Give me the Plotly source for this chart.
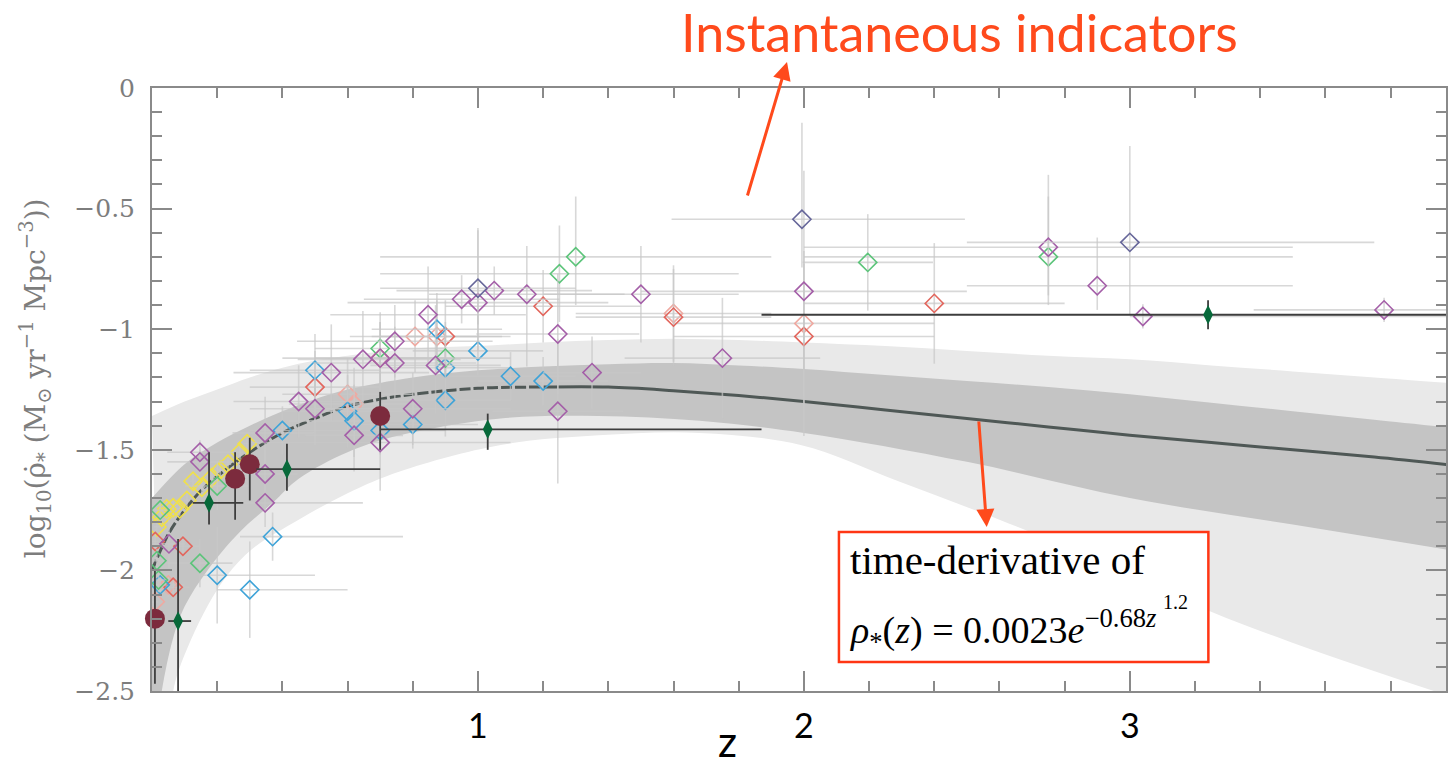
import plotly.graph_objects as go

# ---------------------------------------------------------------
# Fit curve and confidence bands: log10 SFR density versus redshift
# ---------------------------------------------------------------
mid_z = [0.0, 0.05, 0.1, 0.15, 0.2, 0.3, 0.4, 0.5, 0.6, 0.7, 0.8, 1.0, 1.2,
         1.4, 1.6, 1.8, 2.0, 2.25, 2.5, 2.75, 3.0, 3.25, 3.5, 3.75, 4.0]
mid_sfr = [-2.00, -1.85, -1.75, -1.67, -1.61, -1.51, -1.43, -1.37, -1.32,
           -1.29, -1.27, -1.245, -1.24, -1.24, -1.255, -1.275, -1.30, -1.335,
           -1.37, -1.405, -1.44, -1.47, -1.50, -1.53, -1.565]

up_z = [0.0, 0.1, 0.2, 0.3, 0.4, 0.5, 0.6, 0.8, 1.0, 1.2, 1.4, 1.6, 1.8,
        2.0, 2.25, 2.5, 2.75, 3.0, 3.25, 3.5, 3.75, 4.0]
outer_up = [-1.36, -1.30, -1.25, -1.20, -1.16, -1.13, -1.11, -1.08, -1.07,
            -1.055, -1.045, -1.04, -1.045, -1.055, -1.07, -1.09, -1.11,
            -1.125, -1.15, -1.175, -1.20, -1.225]
inner_up = [-1.70, -1.56, -1.47, -1.40, -1.34, -1.29, -1.25, -1.20, -1.17,
            -1.155, -1.145, -1.14, -1.15, -1.165, -1.19, -1.215, -1.24,
            -1.27, -1.305, -1.34, -1.375, -1.41]

inner_lo_z = [0.0, 0.03, 0.065, 0.1, 0.17, 0.27, 0.37, 0.45, 0.6, 0.76, 1.07,
              1.37, 1.68, 2.0, 2.5, 3.0, 3.5, 4.0]
inner_lo = [-2.80, -2.50, -2.28, -2.15, -2.00, -1.84, -1.72, -1.62, -1.51,
            -1.44, -1.37, -1.36, -1.38, -1.43, -1.55, -1.70, -1.81, -1.92]

outer_lo_z = [0.03, 0.065, 0.1, 0.2, 0.3, 0.45, 0.6, 0.76, 1.07, 1.37, 1.68,
              1.99, 2.29, 2.60, 2.91, 3.21, 3.52, 4.0]
outer_lo = [-2.90, -2.50, -2.35, -2.08, -1.92, -1.79, -1.68, -1.59, -1.48,
            -1.44, -1.43, -1.48, -1.63, -1.79, -1.96, -2.15, -2.31, -2.53]

# ---------------------------------------------------------------
# Compiled measurements (open diamonds), grouped by indicator colour
# z, log10 SFRD, and asymmetric errors in z and in log SFRD
# ---------------------------------------------------------------
purple_z = [0.147, 0.147, 0.052, 0.347, 0.347, 0.347, 0.45, 0.50, 0.55, 0.62,
            0.647, 0.70, 0.70, 0.745, 0.745, 0.80, 0.847, 0.87, 0.95, 1.00,
            1.05, 1.15, 1.245, 1.245, 1.35, 1.50, 1.75, 2.00, 2.75, 2.90,
            3.04, 3.78]
purple_sfr = [-1.51, -1.55, -1.89, -1.43, -1.60, -1.72, -1.30, -1.33, -1.18,
              -1.44, -1.125, -1.47, -1.12, -1.05, -1.14, -1.33, -0.94, -1.15,
              -0.876, -0.89, -0.84, -0.855, -1.02, -1.34, -1.18, -0.855,
              -1.12, -0.843, -0.66, -0.82, -0.947, -0.92]
purple_dzm = [0.10, 0.10, 0.05, 0.10, 0.10, 0.10, 0.20, 0.20, 0.30, 0.15, 0.20,
              0.40, 0.30, 0.30, 0.25, 0.30, 0.30, 0.20, 0.30, 0.40, 0.30, 0.30,
              0.25, 0.20, 0.15, 0.30, 0.30, 0.50, 0.75, 0.40, 0.04, 0.40]
purple_dzp = [0.10, 0.10, 0.05, 0.15, 0.10, 0.30, 0.20, 0.20, 0.30, 0.15, 0.30,
              0.40, 0.30, 0.30, 0.25, 0.30, 0.30, 0.20, 0.30, 0.40, 0.30, 0.30,
              0.25, 0.20, 0.15, 0.30, 0.30, 0.50, 0.75, 0.60, 1.00, 0.40]
purple_dym = [0.05, 0.05, 0.10, 0.15, 0.10, 0.10, 0.15, 0.15, 0.20, 0.15, 0.20,
              0.20, 0.15, 0.15, 0.15, 0.15, 0.20, 0.20, 0.10, 0.20, 0.10, 0.30,
              0.25, 0.30, 0.15, 0.20, 0.25, 0.60, 0.20, 0.10, 0.05, 0.05]
purple_dyp = [0.05, 0.05, 0.10, 0.15, 0.10, 0.10, 0.15, 0.15, 0.20, 0.15, 0.20,
              0.20, 0.15, 0.15, 0.15, 0.15, 0.20, 0.25, 0.10, 0.30, 0.10, 0.20,
              0.25, 0.30, 0.15, 0.20, 0.25, 0.50, 0.30, 0.20, 0.05, 0.05]

slate_z = [1.00, 1.994, 3.00]
slate_sfr = [-0.83, -0.544, -0.64]
slate_dzm = [0.30, 0.40, 0.50]
slate_dzp = [0.30, 0.50, 0.75]
slate_dym = [0.15, 0.20, 0.30]
slate_dyp = [0.25, 0.40, 0.40]

green_z = [0.025, 0.015, 0.020, 0.147, 0.20, 0.70, 0.90, 1.25, 1.30, 2.196, 2.75]
green_sfr = [-1.75, -1.96, -2.04, -1.97, -1.65, -1.08, -1.12, -0.77, -0.70,
             -0.723, -0.70]
green_dzm = [0.02, 0.01, 0.02, 0.10, 0.10, 0.20, 0.20, 0.55, 0.60, 0.20, 0.75]
green_dzp = [0.02, 0.01, 0.02, 0.10, 0.10, 0.20, 0.20, 0.55, 0.60, 0.20, 0.75]
green_dym = [0.05, 0.05, 0.05, 0.10, 0.10, 0.20, 0.15, 0.20, 0.20, 0.20, 0.20]
green_dyp = [0.05, 0.05, 0.05, 0.10, 0.10, 0.15, 0.15, 0.20, 0.25, 0.20, 0.25]

blue_z = [0.025, 0.20, 0.30, 0.37, 0.40, 0.50, 0.60, 0.62, 0.70, 0.80, 0.874,
          0.90, 0.90, 1.00, 1.10, 1.20]
blue_sfr = [-2.06, -2.02, -2.08, -1.86, -1.42, -1.17, -1.34, -1.38, -1.42,
            -1.395, -1.00, -1.16, -1.295, -1.09, -1.195, -1.215]
blue_dzm = [0.02, 0.05, 0.10, 0.10, 0.10, 0.20, 0.20, 0.20, 0.20, 0.20, 0.20,
            0.20, 0.20, 0.20, 0.20, 0.20]
blue_dzp = [0.02, 0.30, 0.30, 0.40, 0.10, 0.20, 0.20, 0.20, 0.20, 0.20, 0.20,
            0.20, 0.20, 0.20, 0.20, 0.20]
blue_dym = [0.05, 0.20, 0.20, 0.10, 0.10, 0.15, 0.15, 0.15, 0.10, 0.10, 0.15,
            0.15, 0.15, 0.10, 0.10, 0.10]
blue_dyp = [0.05, 0.20, 0.20, 0.10, 0.10, 0.15, 0.15, 0.15, 0.10, 0.10, 0.15,
            0.15, 0.15, 0.15, 0.10, 0.10]

salmon_z = [0.010, 0.095, 0.065, 0.50, 0.70, 0.90, 1.20, 1.60, 2.00, 2.40]
salmon_sfr = [-1.88, -1.90, -2.07, -1.24, -1.12, -1.03, -0.905, -0.95, -1.03,
              -0.893]
salmon_dzm = [0.01, 0.05, 0.05, 0.20, 0.20, 0.20, 0.30, 0.30, 0.40, 0.40]
salmon_dzp = [0.01, 0.05, 0.05, 0.20, 0.20, 0.20, 0.30, 0.30, 0.40, 0.40]
salmon_dym = [0.05, 0.05, 0.05, 0.15, 0.15, 0.15, 0.15, 0.20, 0.40, 0.25]
salmon_dyp = [0.05, 0.05, 0.05, 0.15, 0.15, 0.15, 0.15, 0.20, 0.30, 0.25]

pink_z = [0.05, 0.01, 0.60, 0.62, 0.807, 0.874, 1.60, 2.00]
pink_sfr = [-2.06, -2.13, -1.27, -1.31, -1.03, -1.03, -0.935, -0.976]
pink_dzm = [0.05, 0.01, 0.20, 0.20, 0.20, 0.20, 0.30, 0.40]
pink_dzp = [0.05, 0.01, 0.20, 0.20, 0.20, 0.20, 0.30, 0.40]
pink_dym = [0.05, 0.05, 0.15, 0.15, 0.15, 0.15, 0.20, 0.30]
pink_dyp = [0.05, 0.05, 0.15, 0.15, 0.15, 0.15, 0.20, 0.30]

yellow_z = [0.015, 0.030, 0.045, 0.065, 0.085, 0.107, 0.126, 0.153, 0.184,
            0.209, 0.233, 0.27, 0.292]
yellow_sfr = [-1.82, -1.78, -1.745, -1.74, -1.745, -1.71, -1.63, -1.655,
              -1.615, -1.585, -1.56, -1.51, -1.475]
yellow_dzm = [0.01] * 13
yellow_dzp = [0.01] * 13
yellow_dym = [0.03] * 13
yellow_dyp = [0.03] * 13

# Filled symbols with their own (darker) error bars
circle_z = [0.009, 0.255, 0.30, 0.70]
circle_sfr = [-2.20, -1.62, -1.56, -1.36]
circle_dym = [0.27, 0.17, 0.15, 0.14]
circle_dyp = [0.20, 0.11, 0.11, 0.10]

gdiam_z = [0.08, 0.175, 0.414, 1.03, 3.24]
gdiam_sfr = [-2.21, -1.72, -1.58, -1.415, -0.94]
gdiam_dzm = [0.03, 0.05, 0.094, 0.33, 1.37]
gdiam_dzp = [0.04, 0.105, 0.286, 0.84, 1.0]
gdiam_dym = [0.40, 0.09, 0.09, 0.085, 0.06]
gdiam_dyp = [0.34, 0.21, 0.105, 0.065, 0.06]

# ---------------------------------------------------------------
fig = go.Figure()

LIGHT_BAND = "#e9e9e9"
DARK_BAND = "#c4c4c4"
CURVE = "#4f5856"
ERRBAR = "rgba(200,200,200,0.7)"

# outer (2-sigma) band
fig.add_trace(go.Scatter(x=outer_lo_z, y=outer_lo, mode="lines",
                         line=dict(width=0, shape="spline", color=LIGHT_BAND),
                         hoverinfo="skip", showlegend=False))
fig.add_trace(go.Scatter(x=up_z, y=outer_up, mode="lines", fill="tonexty",
                         fillcolor=LIGHT_BAND,
                         line=dict(width=0, shape="spline", color=LIGHT_BAND),
                         hoverinfo="skip", showlegend=False))
# inner (1-sigma) band
fig.add_trace(go.Scatter(x=inner_lo_z, y=inner_lo, mode="lines",
                         line=dict(width=0, shape="spline", color=DARK_BAND),
                         hoverinfo="skip", showlegend=False))
fig.add_trace(go.Scatter(x=up_z, y=inner_up, mode="lines", fill="tonexty",
                         fillcolor=DARK_BAND,
                         line=dict(width=0, shape="spline", color=DARK_BAND),
                         hoverinfo="skip", showlegend=False))

# best-fit curve: dashed at low z, solid beyond
split = 13
fig.add_trace(go.Scatter(x=mid_z[:split], y=mid_sfr[:split], mode="lines",
                         line=dict(color=CURVE, width=3, shape="spline",
                                   dash="11px,3px"),
                         hoverinfo="skip", showlegend=False))
fig.add_trace(go.Scatter(x=mid_z[split - 1:], y=mid_sfr[split - 1:],
                         mode="lines",
                         line=dict(color=CURVE, width=3, shape="spline"),
                         hoverinfo="skip", showlegend=False))


def open_diamonds(z, sfr, dzm, dzp, dym, dyp, color):
    fig.add_trace(go.Scatter(
        x=z, y=sfr, mode="markers",
        marker=dict(symbol="diamond-open", size=14, color=color,
                    line=dict(width=1.6, color=color)),
        error_x=dict(type="data", symmetric=False, array=dzp, arrayminus=dzm,
                     color=ERRBAR, thickness=1.6, width=0),
        error_y=dict(type="data", symmetric=False, array=dyp, arrayminus=dym,
                     color=ERRBAR, thickness=1.6, width=0),
        showlegend=False, cliponaxis=True))


open_diamonds(yellow_z, yellow_sfr, yellow_dzm, yellow_dzp, yellow_dym,
              yellow_dyp, "#f0e04a")
open_diamonds(pink_z, pink_sfr, pink_dzm, pink_dzp, pink_dym, pink_dyp,
              "#efa9a1")
open_diamonds(salmon_z, salmon_sfr, salmon_dzm, salmon_dzp, salmon_dym,
              salmon_dyp, "#e2665d")
open_diamonds(blue_z, blue_sfr, blue_dzm, blue_dzp, blue_dym, blue_dyp,
              "#3ea3d8")
open_diamonds(green_z, green_sfr, green_dzm, green_dzp, green_dym, green_dyp,
              "#5cc47a")
open_diamonds(purple_z, purple_sfr, purple_dzm, purple_dzp, purple_dym,
              purple_dyp, "#a45fa8")
open_diamonds(slate_z, slate_sfr, slate_dzm, slate_dzp, slate_dym, slate_dyp,
              "#67679a")

fig.add_trace(go.Scatter(
    x=circle_z, y=circle_sfr, mode="markers",
    marker=dict(symbol="circle", size=20, color="#7c2b3d"),
    error_y=dict(type="data", symmetric=False, array=circle_dyp,
                 arrayminus=circle_dym, color="#3d3d3d", thickness=1.8,
                 width=0),
    showlegend=False, cliponaxis=False))

fig.add_trace(go.Scatter(
    x=gdiam_z, y=gdiam_sfr, mode="markers",
    marker=dict(symbol="diamond-tall", size=14, color="#07693a"),
    error_x=dict(type="data", symmetric=False, array=gdiam_dzp,
                 arrayminus=gdiam_dzm, color="#3d3d3d", thickness=1.8,
                 width=0),
    error_y=dict(type="data", symmetric=False, array=gdiam_dyp,
                 arrayminus=gdiam_dym, color="#3d3d3d", thickness=1.8,
                 width=0),
    showlegend=False))

# ---------------------------------------------------------------
# Layout
# ---------------------------------------------------------------
L, T, W, H = 152, 88, 1296, 603


def px(xp):
    return (xp - L) / W


def py(yp):
    return (T + H - yp) / H


AXIS = "#8a8a8a"
ORANGE = "#ff4a1c"

fig.update_layout(
    width=1448, height=766,
    margin=dict(l=L, r=0, t=T, b=766 - T - H),
    paper_bgcolor="white", plot_bgcolor="white",
    xaxis=dict(range=[0, 3.97], showgrid=False, zeroline=False,
               showline=True, linecolor=AXIS, linewidth=2, mirror="ticks",
               ticks="inside", ticklen=20, tickwidth=1.6, tickcolor=AXIS,
               tickvals=[1, 2, 3], ticktext=["1", "2", "3"],
               ticklabelstandoff=4,
               tickfont=dict(family="Lato", size=34, color="black"),
               minor=dict(dtick=0.2, ticks="inside", ticklen=10,
                          tickwidth=1.6, tickcolor=AXIS, showgrid=False)),
    yaxis=dict(range=[-2.5, 0], showgrid=False, zeroline=False,
               showline=True, linecolor=AXIS, linewidth=2, mirror="ticks",
               ticks="inside", ticklen=20, tickwidth=1.6, tickcolor=AXIS,
               dtick=0.5, ticklabelstandoff=10,
               tickfont=dict(family="DejaVu Serif", size=25,
                             color="#7d7d7d"),
               minor=dict(dtick=0.1, ticks="inside", ticklen=10,
                          tickwidth=1.6, tickcolor=AXIS, showgrid=False)),
)


def note(x, y, text, size, color, family, xanchor="center", angle=0):
    fig.add_annotation(xref="paper", yref="paper", x=px(x), y=py(y),
                       xanchor=xanchor, yanchor="middle", textangle=angle,
                       text=text, showarrow=False,
                       font=dict(family=family, size=size, color=color))


note(35, 378,
     "log<sub>10</sub>(ρ̇<sub>*</sub> (M<sub>⊙</sub> yr<sup>−1</sup> "
     "Mpc<sup>−3</sup>))", 28, "#7d7d7d", "DejaVu Serif", angle=-90)
note(728, 741, "z", 42, "black", "Lato")
note(961, 32, "Instantaneous indicators", 52, ORANGE, "Lato")

# arrows pointing at the measurements and at the fit curve
fig.add_annotation(
    xref="paper", yref="paper", x=px(788), y=py(62), text="",
    showarrow=True, ax=-40, ay=135, arrowhead=2, arrowsize=1.2,
    arrowwidth=3, arrowcolor=ORANGE)
fig.add_annotation(
    xref="paper", yref="paper", x=px(988), y=py(527), text="",
    showarrow=True, ax=-8, ay=-107, arrowhead=2, arrowsize=1.2,
    arrowwidth=3, arrowcolor=ORANGE)

fig.add_shape(type="rect", xref="paper", yref="paper",
              x0=px(840), x1=px(1210), y0=py(662), y1=py(532),
              fillcolor="white", line=dict(color="#ff3614", width=2.5),
              layer="above")

note(849, 560, "time-derivative of", 41, "black", "Liberation Serif",
     xanchor="left")
note(849, 630,
     "<i>ρ</i><sub>*</sub>(<i>z</i>) = 0.0023<i>e</i><sup>−0.68<i>z</i></sup>",
     38, "black", "Liberation Serif", xanchor="left")
note(1163, 602, "1.2", 20, "black", "Liberation Serif", xanchor="left")

fig.write_html("out.html")
